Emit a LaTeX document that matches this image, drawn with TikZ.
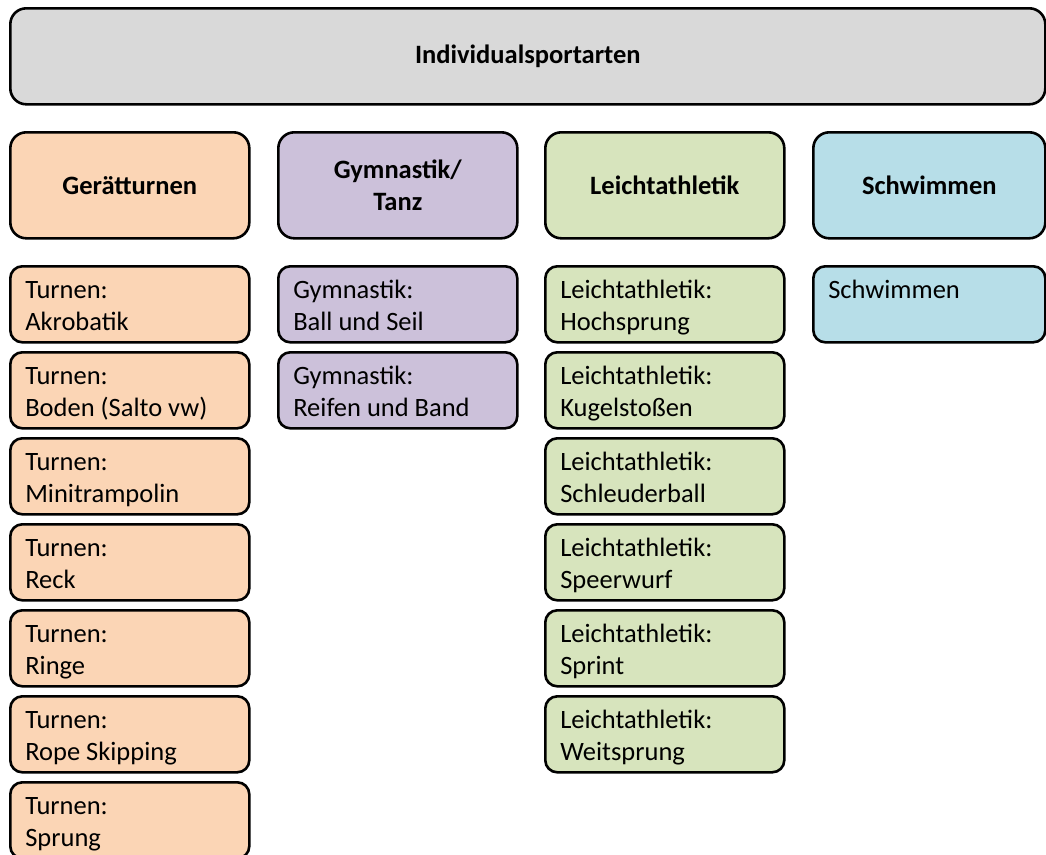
\documentclass[tikz,border=0pt]{standalone}
\usepackage{fontspec}
\setmainfont{Carlito}
\definecolor{headgray}{HTML}{D9D9D9}
\definecolor{peach}{HTML}{FBD5B5}
\definecolor{lavender}{HTML}{CCC1DA}
\definecolor{olive}{HTML}{D7E4BD}
\definecolor{aqua}{HTML}{B7DEE8}
\newcommand\basefont{\fontsize{26.5pt}{31.7pt}\selectfont}
% top-aligned text block inside an entry box
\newcommand\entry[2][209pt]{\parbox[c][56pt][t]{#1}{\raggedright\strut #2}}
\tikzset{
  box/.style={draw=black, line width=2.6pt, inner sep=0pt, anchor=north west},
  headbox/.style={box, rounded corners=16pt, minimum width=1035pt, minimum height=96pt,
    fill=headgray, font=\basefont\bfseries},
  catbox/.style={box, rounded corners=16pt, minimum width=239pt, minimum height=106pt,
    align=center, font=\basefont\bfseries},
  itembox/.style={box, rounded corners=12pt, minimum width=239pt, minimum height=76pt,
    font=\basefont},
}
\begin{document}
\begin{tikzpicture}[x=1pt,y=-1pt]
\useasboundingbox (0,0) rectangle (1046,854);

% title bar
\node[headbox] (head) at (9,7) {Individualsportarten};

% category headers
\node[catbox, fill=peach]    (cat1) at (9,131)   {Gerätturnen};
\node[catbox, fill=lavender] (cat2) at (277,131) {Gymnastik/\\Tanz};
\node[catbox, fill=olive]    (cat3) at (544,131) {Leichtathletik};
\node[catbox, fill=aqua, minimum width=232pt] (cat4) at (812,131) {Schwimmen};

% Geraetturnen
\node[itembox, fill=peach] (g1) at (9,265) {\entry{Turnen:\\Akrobatik}};
\node[itembox, fill=peach] (g2) at (9,351) {\entry{Turnen:\\Boden (Salto vw)}};
\node[itembox, fill=peach] (g3) at (9,437) {\entry{Turnen:\\Minitrampolin}};
\node[itembox, fill=peach] (g4) at (9,523) {\entry{Turnen:\\Reck}};
\node[itembox, fill=peach] (g5) at (9,609) {\entry{Turnen:\\Ringe}};
\node[itembox, fill=peach] (g6) at (9,695) {\entry{Turnen:\\Rope Skipping}};
\node[itembox, fill=peach] (g7) at (9,781) {\entry{Turnen:\\Sprung}};

% Gymnastik / Tanz
\node[itembox, fill=lavender] (y1) at (277,265) {\entry{Gymnastik:\\Ball und Seil}};
\node[itembox, fill=lavender] (y2) at (277,351) {\entry{Gymnastik:\\Reifen und Band}};

% Leichtathletik
\node[itembox, fill=olive] (l1) at (544,265) {\entry{Leichtathletik:\\Hochsprung}};
\node[itembox, fill=olive] (l2) at (544,351) {\entry{Leichtathletik:\\Kugelstoßen}};
\node[itembox, fill=olive] (l3) at (544,437) {\entry{Leichtathletik:\\Schleuderball}};
\node[itembox, fill=olive] (l4) at (544,523) {\entry{Leichtathletik:\\Speerwurf}};
\node[itembox, fill=olive] (l5) at (544,609) {\entry{Leichtathletik:\\Sprint}};
\node[itembox, fill=olive] (l6) at (544,695) {\entry{Leichtathletik:\\Weitsprung}};

% Schwimmen
\node[itembox, fill=aqua, minimum width=232pt] (s1) at (812,265) {\entry[202pt]{Schwimmen}};
\end{tikzpicture}
\end{document}
